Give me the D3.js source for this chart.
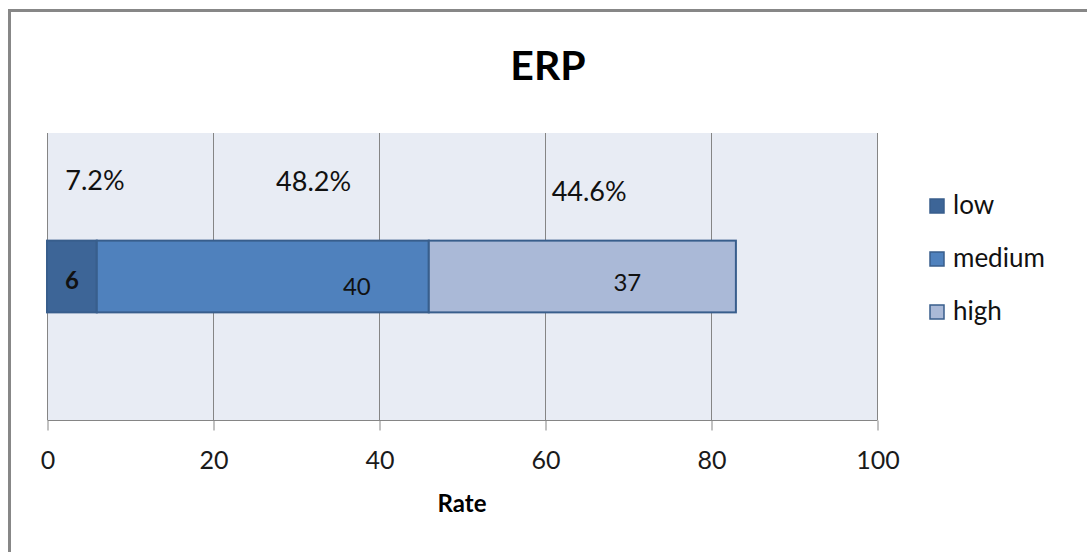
<!DOCTYPE html>
<html>
<head>
<meta charset="utf-8">
<script src="https://cdn.jsdelivr.net/npm/d3@7"></script>
<style>
  html, body { margin: 0; padding: 0; background: #ffffff; }
  svg { display: block; font-family: Lato, "Open Sans", sans-serif; }
</style>
</head>
<body>
<svg id="chart" width="1087" height="552"></svg>
<script>
// Data
const category = "ERP";
const seriesNames = ["low", "medium", "high"];
const seriesValues = [6, 40, 37];
const percentLabels = ["7.2%", "48.2%", "44.6%"];
const xTicks = [0, 20, 40, 60, 80, 100];

// Layout
const W = 1087, H = 552;
const plot = { left: 47, right: 877, top: 133, bottom: 420 };
const colors = ["#3d6597", "#4f81bd", "#aab9d7"];
const barStroke = "#385e8c";
// percent label positions (x in axis units, baseline y in px)
const pctPos = [[2.2, 190], [27.6, 191], [60.8, 201]];
// value label offsets from segment centre (dx, baseline y)
const valPos = [[0, 289], [94, 295], [45, 291]];

const svg = d3.select("#chart");

// Outer chart frame (top and left edges visible)
svg.append("rect")
  .attr("x", 9.5).attr("y", 10.5)
  .attr("width", W + 20).attr("height", H + 20)
  .attr("fill", "#ffffff")
  .attr("stroke", "#878787")
  .attr("stroke-width", 3);

const x = d3.scaleLinear().domain([0, 100]).range([plot.left, plot.right]);
const y = d3.scaleBand().domain([category]).range([plot.top, plot.bottom])
  .paddingInner(0.6).paddingOuter(0.6);

// Plot background
svg.append("rect")
  .attr("x", plot.left).attr("y", plot.top)
  .attr("width", plot.right - plot.left)
  .attr("height", plot.bottom - plot.top)
  .attr("fill", "#e8ecf4");

// Vertical gridlines
svg.append("g").selectAll("line")
  .data(xTicks)
  .join("line")
  .attr("x1", d => Math.round(x(d)) + 0.5)
  .attr("x2", d => Math.round(x(d)) + 0.5)
  .attr("y1", plot.top).attr("y2", plot.bottom)
  .attr("stroke", "#858585").attr("stroke-width", 1);

// X axis
const xAxis = d3.axisBottom(x).tickValues(xTicks).tickSize(10).tickPadding(14)
  .tickFormat(d3.format("d"));
const gx = svg.append("g")
  .attr("transform", `translate(0.5,${plot.bottom + 0.5})`)
  .call(xAxis);
gx.select(".domain").attr("stroke", "#858585").attr("d", `M${plot.left},0H${plot.right}`);
gx.selectAll(".tick line").attr("stroke", "#858585");
gx.selectAll(".tick text")
  .attr("font-family", "Lato, sans-serif")
  .attr("font-size", 25)
  .attr("fill", "#1a1a1a")
  .attr("dy", null)
  .attr("y", 48);

// Stacked segments
let acc = 0;
const segs = seriesValues.map((v, i) => {
  const s = { name: seriesNames[i], v, x0: acc, x1: acc + v, i };
  acc += v;
  return s;
});

svg.append("g").selectAll("rect")
  .data(segs)
  .join("rect")
  .attr("x", d => x(d.x0))
  .attr("y", y(category))
  .attr("width", d => x(d.x1) - x(d.x0))
  .attr("height", y.bandwidth())
  .attr("fill", d => colors[d.i])
  .attr("stroke", barStroke)
  .attr("stroke-width", 2);

// Value labels inside segments
svg.append("g").selectAll("text")
  .data(segs)
  .join("text")
  .attr("x", d => (x(d.x0) + x(d.x1)) / 2 + valPos[d.i][0])
  .attr("y", d => valPos[d.i][1])
  .attr("text-anchor", "middle")
  .attr("font-size", 24)
  .attr("font-weight", d => d.i === 0 ? 700 : 400)
  .attr("fill", "#111")
  .text(d => d.v);

// Percent labels
svg.append("g").selectAll("text")
  .data(percentLabels)
  .join("text")
  .attr("x", (d, i) => x(pctPos[i][0]))
  .attr("y", (d, i) => pctPos[i][1])
  .attr("font-size", 27)
  .attr("fill", "#111")
  .text(d => d);

// Title
svg.append("text")
  .attr("x", 548).attr("y", 80)
  .attr("text-anchor", "middle")
  .attr("font-size", 41)
  .attr("font-weight", 700)
  .attr("fill", "#000")
  .text(category);

// Axis title
svg.append("text")
  .attr("x", 462).attr("y", 512)
  .attr("text-anchor", "middle")
  .attr("font-size", 24)
  .attr("font-weight", 700)
  .attr("fill", "#000")
  .text("Rate");

// Legend
const legend = svg.append("g").attr("transform", "translate(929,198)");
const li = legend.selectAll("g")
  .data(seriesNames)
  .join("g")
  .attr("transform", (d, i) => `translate(0,${i * 53})`);
li.append("rect")
  .attr("x", 1).attr("y", 1)
  .attr("width", 14).attr("height", 14)
  .attr("fill", (d, i) => colors[i])
  .attr("stroke", barStroke)
  .attr("stroke-width", 1.5);
li.append("text")
  .attr("x", 24).attr("y", 16)
  .attr("font-size", 26)
  .attr("fill", "#111")
  .text(d => d);
</script>
</body>
</html>
